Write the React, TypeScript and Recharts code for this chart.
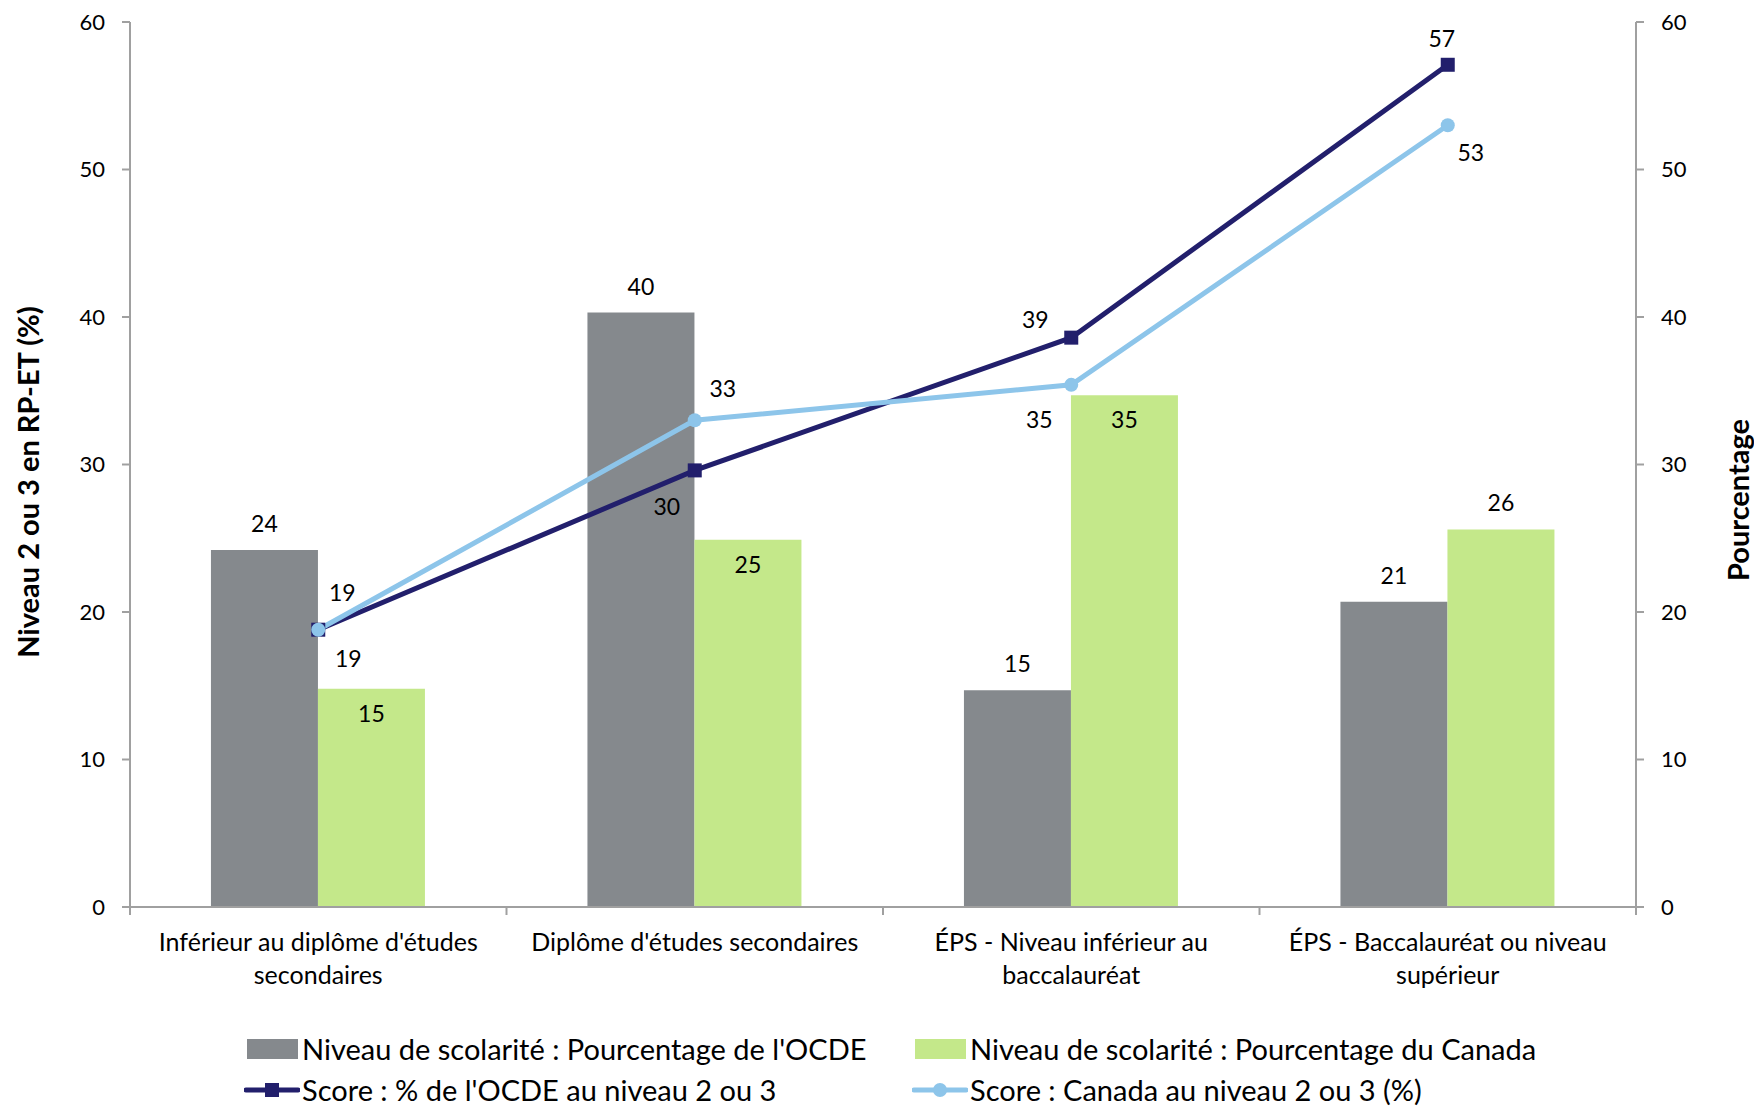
import { ComposedChart, Bar, Line, XAxis, YAxis, LabelList } from "recharts";

const categories = [
  "Inférieur au diplôme d'études secondaires",
  "Diplôme d'études secondaires",
  "ÉPS - Niveau inférieur au baccalauréat",
  "ÉPS - Baccalauréat ou niveau supérieur",
];
const oecdShare = [24.2, 40.3, 14.7, 20.7];
const canadaShare = [14.8, 24.9, 34.7, 25.6];
const oecdScore = [18.8, 29.6, 38.6, 57.1];
const canadaScore = [18.8, 33.0, 35.4, 53.0];
const yTicks = [0, 10, 20, 30, 40, 50, 60];

const seriesNames = {
  oecdShare: "Niveau de scolarité : Pourcentage de l'OCDE",
  canadaShare: "Niveau de scolarité : Pourcentage du Canada",
  oecdScore: "Score : % de l'OCDE au niveau 2 ou 3",
  canadaScore: "Score : Canada au niveau 2 ou 3 (%)",
};

const data = categories.map((cat, i) => ({
  cat,
  oecdShare: oecdShare[i],
  canadaShare: canadaShare[i],
  oecdScore: oecdScore[i],
  canadaScore: canadaScore[i],
}));

const W = 1754;
const H = 1109;
const PLOT_LEFT = 130;
const PLOT_RIGHT = 1636;
const PLOT_BOTTOM = 907;
const BAND = (PLOT_RIGHT - PLOT_LEFT) / categories.length;

const FONT = "Lato, 'Noto Sans', sans-serif";
const AXIS = "#a0a0a0";
const GREY = "#85898d";
const GREEN = "#c4e88a";
const NAVY = "#221f6c";
const SKY = "#8dc5ea";

// label placement offsets (label centre relative to the point), per category
const oecdScoreOffsets = [
  [30, 28],
  [-28, 36],
  [-36, -19],
  [-6, -27],
];
const canadaScoreOffsets = [
  [24, -38],
  [28, -32],
  [-32, 34],
  [23, 27],
];

// simple word wrap for the category labels
function wrapLabel(s: string, maxChars = 30) {
  const lines: string[] = [];
  let cur = "";
  for (const w of s.split(" ")) {
    const next = cur ? cur + " " + w : w;
    if (next.length > maxChars && cur) {
      lines.push(cur);
      cur = w;
    } else {
      cur = next;
    }
  }
  if (cur) lines.push(cur);
  return lines;
}

function CategoryTick(props: any) {
  const { x, payload, index } = props;
  const half = BAND / 2;
  const lines = wrapLabel(String(payload.value));
  return (
    <g>
      <line x1={x - half} y1={PLOT_BOTTOM} x2={x - half} y2={PLOT_BOTTOM + 8} stroke={AXIS} strokeWidth={2} />
      {index === categories.length - 1 && (
        <line x1={x + half} y1={PLOT_BOTTOM} x2={x + half} y2={PLOT_BOTTOM + 8} stroke={AXIS} strokeWidth={2} />
      )}
      <text textAnchor="middle" fill="#000" style={{ fontFamily: FONT, fontSize: 25 }}>
        {lines.map((ln, i) => (
          <tspan key={i} x={x} y={PLOT_BOTTOM + 34 + i * 33} dominantBaseline="central">
            {ln}
          </tspan>
        ))}
      </text>
    </g>
  );
}

const valueText = (x: number, y: number, v: any) => (
  <text
    x={x}
    y={y}
    textAnchor="middle"
    dominantBaseline="central"
    fill="#000"
    style={{ fontFamily: FONT, fontSize: 23 }}
  >
    {Math.round(Number(v))}
  </text>
);

function GreyBarLabel(props: any) {
  const { x, y, width, value } = props;
  return valueText(x + width / 2, y - 27, value);
}

function GreenBarLabel(props: any) {
  const { x, y, width, value, index } = props;
  const dy = index === 3 ? -27 : 24;
  return valueText(x + width / 2, y + dy, value);
}

function makeLineLabel(offsets: number[][]) {
  return (props: any) => {
    const { x, y, value, index } = props;
    const [dx, dy] = offsets[index] || [0, -20];
    return valueText(x + dx, y + dy, value);
  };
}

function SquareDot(props: any) {
  const { cx, cy, index } = props;
  return <rect key={"sq" + index} x={cx - 7} y={cy - 7} width={14} height={14} fill={NAVY} />;
}

function LegendItem({ kind, color, label }: { kind: "bar" | "square" | "circle"; color: string; label: string }) {
  return (
    <div style={{ display: "flex", alignItems: "center", height: 41 }}>
      <svg width={56} height={20} style={{ marginRight: 2 }}>
        {kind === "bar" ? (
          <rect x={3} y={0} width={51} height={20} fill={color} />
        ) : (
          <g>
            <line x1={2} y1={10} x2={54} y2={10} stroke={color} strokeWidth={5} strokeLinecap="round" />
            {kind === "square" ? (
              <rect x={21} y={3} width={14} height={14} fill={color} />
            ) : (
              <circle cx={28} cy={10} r={7} fill={color} />
            )}
          </g>
        )}
      </svg>
      <span style={{ fontFamily: FONT, fontSize: 29, color: "#000", whiteSpace: "nowrap" }}>{label}</span>
    </div>
  );
}

const axisTitle = {
  position: "absolute" as const,
  transform: "translate(-50%, -50%) rotate(-90deg)",
  fontFamily: FONT,
  fontWeight: 700,
  fontSize: 29,
  whiteSpace: "nowrap" as const,
  color: "#000",
};

export default function App() {
  return (
    <div style={{ position: "absolute", left: 0, top: 0, width: W, height: H, background: "#fff" }}>
      <ComposedChart
        width={W}
        height={H}
        data={data}
        margin={{ top: 22, right: 0, bottom: 172, left: 0 }}
        barCategoryGap="21.5%"
        barGap={0}
      >
        <XAxis
          dataKey="cat"
          height={30}
          axisLine={{ stroke: AXIS, strokeWidth: 2 }}
          tickLine={false}
          tick={<CategoryTick />}
          interval={0}
        />
        <YAxis
          yAxisId="left"
          orientation="left"
          width={130}
          domain={[0, 60]}
          ticks={yTicks}
          tickSize={8}
          tickMargin={17}
          axisLine={{ stroke: AXIS, strokeWidth: 2 }}
          tickLine={{ stroke: AXIS, strokeWidth: 2 }}
          tick={{ fill: "#000", fontFamily: FONT, fontSize: 22 }}
        />
        <YAxis
          yAxisId="right"
          orientation="right"
          width={118}
          domain={[0, 60]}
          ticks={yTicks}
          tickSize={8}
          tickMargin={17}
          axisLine={{ stroke: AXIS, strokeWidth: 2 }}
          tickLine={{ stroke: AXIS, strokeWidth: 2 }}
          tick={{ fill: "#000", fontFamily: FONT, fontSize: 22 }}
        />
        <Bar yAxisId="right" dataKey="oecdShare" name={seriesNames.oecdShare} fill={GREY} isAnimationActive={false}>
          <LabelList dataKey="oecdShare" content={<GreyBarLabel />} />
        </Bar>
        <Bar yAxisId="right" dataKey="canadaShare" name={seriesNames.canadaShare} fill={GREEN} isAnimationActive={false}>
          <LabelList dataKey="canadaShare" content={<GreenBarLabel />} />
        </Bar>
        <Line
          yAxisId="left"
          dataKey="oecdScore"
          name={seriesNames.oecdScore}
          stroke={NAVY}
          strokeWidth={5}
          dot={<SquareDot />}
          isAnimationActive={false}
        >
          <LabelList dataKey="oecdScore" content={makeLineLabel(oecdScoreOffsets)} />
        </Line>
        <Line
          yAxisId="left"
          dataKey="canadaScore"
          name={seriesNames.canadaScore}
          stroke={SKY}
          strokeWidth={5}
          dot={{ r: 7, fill: SKY, stroke: SKY, strokeWidth: 0 }}
          isAnimationActive={false}
        >
          <LabelList dataKey="canadaScore" content={makeLineLabel(canadaScoreOffsets)} />
        </Line>
      </ComposedChart>

      <div style={{ ...axisTitle, left: 27, top: 482 }}>Niveau 2 ou 3 en RP-ET (%)</div>
      <div style={{ ...axisTitle, left: 1737, top: 500 }}>Pourcentage</div>

      <div style={{ position: "absolute", left: 244, top: 1028 }}>
        <LegendItem kind="bar" color={GREY} label={seriesNames.oecdShare} />
        <LegendItem kind="square" color={NAVY} label={seriesNames.oecdScore} />
      </div>
      <div style={{ position: "absolute", left: 912, top: 1028 }}>
        <LegendItem kind="bar" color={GREEN} label={seriesNames.canadaShare} />
        <LegendItem kind="circle" color={SKY} label={seriesNames.canadaScore} />
      </div>
    </div>
  );
}
